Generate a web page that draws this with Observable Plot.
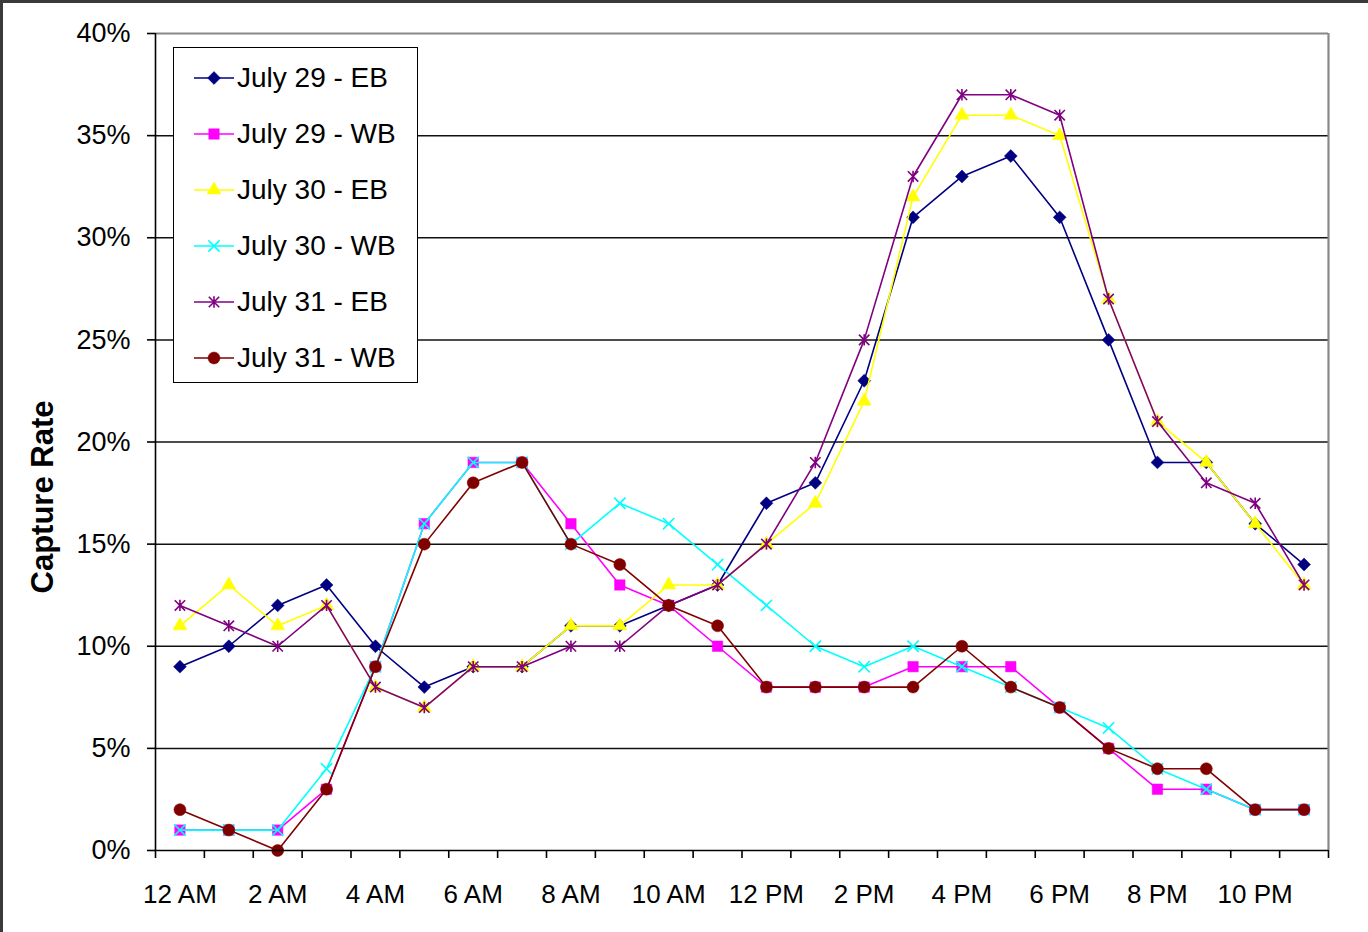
<!DOCTYPE html>
<html>
<head>
<meta charset="utf-8">
<script src="https://cdn.jsdelivr.net/npm/d3@7"></script>
<script src="https://cdn.jsdelivr.net/npm/@observablehq/plot@0.6"></script>
<style>
  html, body { margin: 0; padding: 0; background: #fff; }
  body { width: 1368px; height: 932px; position: relative; overflow: hidden; font-family: "Liberation Sans", Arial, sans-serif; }
  #chart { position: absolute; left: 0; top: 0; }
  .edge { position: absolute; background: #3a3a3a; }
  #legend { position: absolute; left: 173px; top: 47px; width: 243px; height: 334px; border: 1.5px solid #000; background: #fff; }
  .row { position: absolute; left: 0; height: 40px; display: flex; align-items: center; }
  .row svg { margin-left: 19px; }
  .row span { font-size: 28px; color: #000; margin-left: 2px; white-space: nowrap; }
  #ytitle { position: absolute; left: 43px; top: 497px; transform: translate(-50%, -50%) rotate(-90deg); font-size: 31px; font-weight: bold; white-space: nowrap; color: #000; }
</style>
</head>
<body>
<div id="chart"></div>
<div id="legend"></div>
<div id="ytitle">Capture Rate</div>
<div class="edge" style="left:0;top:0;width:3px;height:932px"></div>
<div class="edge" style="left:0;top:0;width:1368px;height:3px"></div>
<script>
// ---- data ----
const hours = d3.range(24); // 0 = 12 AM ... 23 = 11 PM
const xTickLabels = ["12 AM", "2 AM", "4 AM", "6 AM", "8 AM", "10 AM", "12 PM", "2 PM", "4 PM", "6 PM", "8 PM", "10 PM"];
const yTicks = [0, 5, 10, 15, 20, 25, 30, 35, 40];
const seriesNames = ["July 29 - EB", "July 29 - WB", "July 30 - EB", "July 30 - WB", "July 31 - EB", "July 31 - WB"];
const july29EB = [9, 10, 12, 13, 10, 8, 9, 9, 11, 11, 12, 13, 17, 18, 23, 31, 33, 34, 31, 25, 19, 19, 16, 14];
const july29WB = [1, 1, 1, 3, 9, 16, 19, 19, 16, 13, 12, 10, 8, 8, 8, 9, 9, 9, 7, 5, 3, 3, 2, 2];
const july30EB = [11, 13, 11, 12, 8, 7, 9, 9, 11, 11, 13, 13, 15, 17, 22, 32, 36, 36, 35, 27, 21, 19, 16, 13];
const july30WB = [1, 1, 1, 4, 9, 16, 19, 19, 15, 17, 16, 14, 12, 10, 9, 10, 9, 8, 7, 6, 4, 3, 2, 2];
const july31EB = [12, 11, 10, 12, 8, 7, 9, 9, 10, 10, 12, 13, 15, 19, 25, 33, 37, 37, 36, 27, 21, 18, 17, 13];
const july31WB = [2, 1, 0, 3, 9, 15, 18, 19, 15, 14, 12, 11, 8, 8, 8, 8, 10, 8, 7, 5, 4, 4, 2, 2];
const seriesValues = [july29EB, july29WB, july30EB, july30WB, july31EB, july31WB];
const seriesColors = ["#000080", "#FF00FF", "#FFFF00", "#00FFFF", "#800080", "#800000"];

// Excel-style "star" marker: an X with a vertical bar
const starSymbol = {
  draw(ctx, size) {
    const r = Math.sqrt(size / Math.PI);
    ctx.moveTo(-r, -r); ctx.lineTo(r, r);
    ctx.moveTo(r, -r); ctx.lineTo(-r, r);
    ctx.moveTo(0, -r * 1.1); ctx.lineTo(0, r * 1.1);
  }
};
const markerStyles = [
  {symbol: "diamond2", filled: true, r: 5.8},
  {symbol: "square", filled: true, r: 5.9},
  {symbol: "triangle", filled: true, r: 5.2},
  {symbol: "times", filled: false, r: 5.2},
  {symbol: starSymbol, filled: false, r: 5.2},
  {symbol: "circle", filled: true, r: 6.0}
];

const tables = seriesValues.map(vals => hours.map(h => ({hour: h, value: vals[h]})));

const marks = [
  Plot.ruleY(yTicks.filter(v => v > 0 && v < 40), {stroke: "#111", strokeWidth: 1.5}),
  Plot.ruleY([40], {stroke: "#888", strokeWidth: 2.2}),
  Plot.ruleX([23.5], {stroke: "#888", strokeWidth: 2.2})
];
tables.forEach((data, i) => {
  const m = markerStyles[i];
  const c = seriesColors[i];
  marks.push(Plot.line(data, {x: "hour", y: "value", stroke: c, strokeWidth: 1.6}));
  marks.push(Plot.dot(data, {
    x: "hour", y: "value", symbol: m.symbol, r: m.r,
    fill: m.filled ? c : "none",
    stroke: c, strokeWidth: m.filled ? 0.5 : 1.6
  }));
});
marks.push(
  Plot.ruleX([-0.5], {stroke: "#000", strokeWidth: 1.6}),
  Plot.ruleY([0], {stroke: "#000", strokeWidth: 1.6}),
  Plot.axisY({ticks: yTicks, tickSize: 8, tickPadding: 17, tickFormat: d => d + "%", fontSize: 27, strokeWidth: 1.6, label: null}),
  Plot.axisX({ticks: d3.range(25).map(i => i - 0.5), tickSize: 8, tickFormat: () => "", strokeWidth: 1.6, label: null}),
  Plot.axisX({ticks: d3.range(0, 24, 2), tickSize: 0, tickPadding: 34, tickFormat: d => xTickLabels[d / 2], fontSize: 26, label: null})
);

const chart = Plot.plot({
  width: 1368,
  height: 932,
  marginLeft: 155,
  marginRight: 40,
  marginTop: 33,
  marginBottom: 82,
  style: {fontFamily: "'Liberation Sans', Arial, sans-serif", color: "#000", background: "transparent", overflow: "visible"},
  x: {domain: [-0.5, 23.5], label: null},
  y: {domain: [0, 40], label: null},
  marks
});
document.getElementById("chart").appendChild(chart);

// ---- legend ----
const legend = d3.select("#legend");
const symbolMap = {diamond2: d3.symbolDiamond2, square: d3.symbolSquare, triangle: d3.symbolTriangle, times: d3.symbolTimes, circle: d3.symbolCircle};
seriesNames.forEach((name, i) => {
  const m = markerStyles[i];
  const c = seriesColors[i];
  const row = legend.append("div").attr("class", "row").style("top", (i * 56 + 10) + "px");
  const svg = row.append("svg").attr("width", 42).attr("height", 40);
  svg.append("line").attr("x1", 1).attr("x2", 41).attr("y1", 20).attr("y2", 20).attr("stroke", c).attr("stroke-width", 1.6);
  const d3sym = typeof m.symbol === "string" ? symbolMap[m.symbol] : m.symbol;
  svg.append("path")
    .attr("transform", "translate(21,20)")
    .attr("d", d3.symbol(d3sym, Math.PI * m.r * m.r)())
    .attr("fill", m.filled ? c : "none")
    .attr("stroke", c)
    .attr("stroke-width", m.filled ? 0.5 : 1.6);
  row.append("span").text(name);
});
</script>
</body>
</html>
